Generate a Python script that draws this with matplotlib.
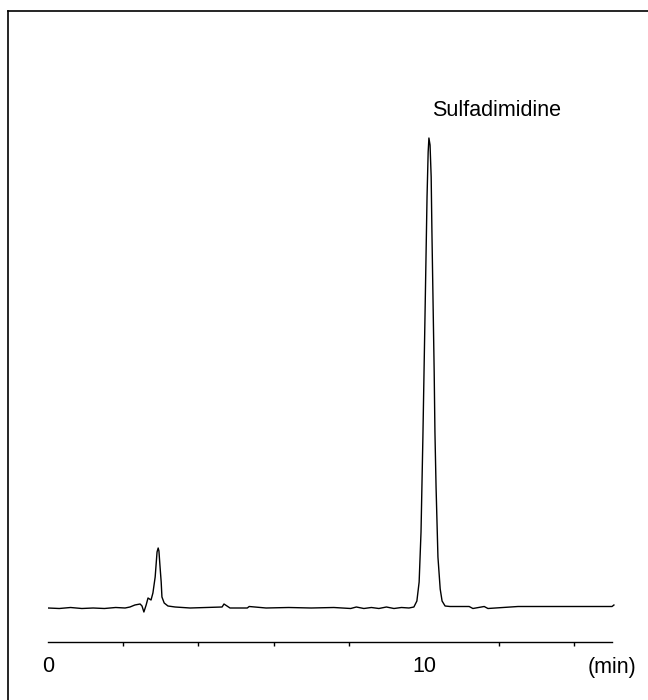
import matplotlib
matplotlib.use("Agg")
import matplotlib.pyplot as plt
from matplotlib.lines import Line2D

plt.rcParams['font.family'] = ['Liberation Sans', 'DejaVu Sans']

# chromatogram trace (time in min, detector signal in a.u.)
time_min = [0.00, 0.30, 0.60, 0.90, 1.20, 1.50, 1.80, 2.05, 2.18, 2.31, 2.45,
            2.50, 2.55, 2.61, 2.66, 2.74, 2.79, 2.85, 2.90, 2.93, 2.95, 2.98,
            3.01, 3.03, 3.09, 3.19, 3.38, 3.78, 4.20, 4.63, 4.68, 4.76, 4.84,
            5.30, 5.35, 5.80, 6.40, 7.00, 7.60, 8.05, 8.20, 8.40, 8.60, 8.80,
            9.00, 9.20, 9.40, 9.60, 9.73, 9.81, 9.87, 9.92, 9.97, 10.03, 10.08,
            10.11, 10.13, 10.16, 10.19, 10.21, 10.24, 10.27, 10.29, 10.32,
            10.35, 10.37, 10.43, 10.48, 10.56, 10.69, 11.20, 11.30, 11.60,
            11.70, 12.50, 13.50, 14.50, 15.00, 15.05]
signal = [-1.0, -1.5, -0.5, -1.5, -1.0, -1.5, -0.5, -1.0, 0.0, 2.0, 3.0,
          1.0, -5.0, 2.0, 9.0, 7.0, 14.0, 30.0, 55.0, 59.0, 56.0, 40.0,
          25.0, 10.0, 4.0, 1.0, 0.0, -1.0, -0.5, 0.0, 3.0, 1.0, -1.0,
          -1.0, 0.5, -1.0, -0.5, -1.0, -0.5, -1.5, 0.0, -1.5, -0.5, -1.5,
          0.0, -1.5, -0.5, -1.0, 0.0, 6.0, 25.0, 75.0, 170.0, 300.0, 410.0,
          455.0, 469.0, 462.0, 430.0, 375.0, 305.0, 235.0, 175.0, 120.0,
          78.0, 50.0, 18.0, 6.0, 1.0, 0.5, 0.5, -1.5, 0.5,
          -1.5, 0.5, 0.5, 0.5, 0.5, 2.0]

tick_minor = [2, 4, 6, 8, 10, 12, 14]
tick_major = [0, 10]
tick_labels = ['0', '10']
peak_name = 'Sulfadimidine'

fig = plt.figure(figsize=(6.48, 7.0), dpi=100)
ax = fig.add_axes([48 / 648, 58 / 700, 567.8 / 648, 512 / 700])

ax.plot(time_min, signal, color='black', lw=1.0)

ax.set_xlim(0, 15.1)
ax.set_ylim(-35, 477)
for side in ['top', 'right', 'left']:
    ax.spines[side].set_visible(False)
ax.spines['bottom'].set_bounds(0, 15)
ax.spines['bottom'].set_linewidth(1.0)
ax.set_yticks([])

ax.set_xticks(tick_major, tick_labels, fontsize=15.5)
ax.set_xticks(tick_minor, minor=True)
ax.tick_params(axis='x', which='major', length=0, pad=10)
ax.tick_params(axis='x', which='minor', length=3, width=1, direction='out')

ax.text(1.0356, -0.05, '(min)', transform=ax.transAxes, fontsize=15.5,
        ha='right', va='center')
ax.text(10.21, 497, peak_name, fontsize=15.5, ha='left', va='center', clip_on=False)

# frame around the figure (only left and top edges visible in the crop)
fig.add_artist(Line2D([7.5 / 648, 7.5 / 648], [0, 689 / 700], color='black', lw=1.2))
fig.add_artist(Line2D([7.5 / 648, 1], [689 / 700, 689 / 700], color='black', lw=1.2))

fig.savefig('out.png', dpi=100)
